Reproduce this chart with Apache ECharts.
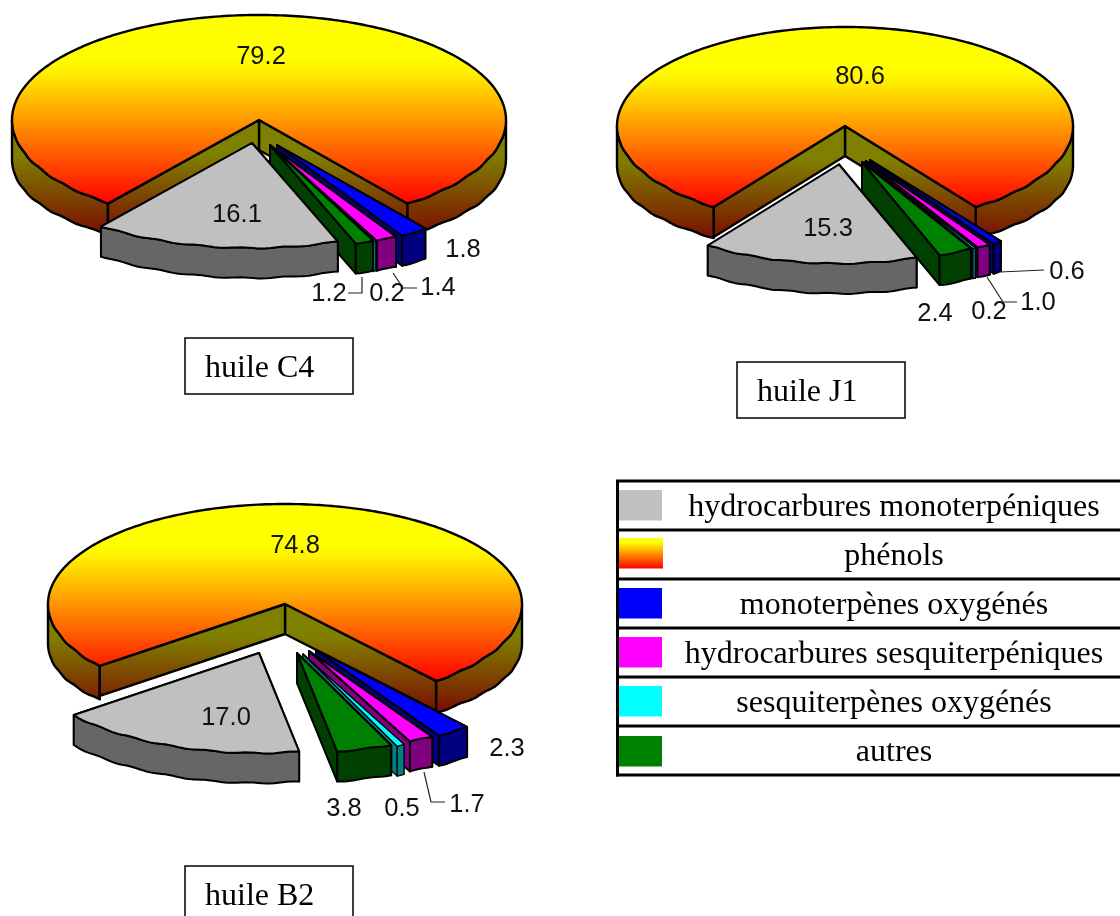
<!DOCTYPE html>
<html>
<head>
<meta charset="utf-8">
<style>html,body{margin:0;padding:0;background:#fff}#c{width:1120px;height:916px}</style>
<script src="https://cdn.jsdelivr.net/npm/echarts@6/dist/echarts.min.js"></script>
</head>
<body>
<div id="c"></div>
<script>
// Categories in drawing order (phenols, then clockwise round the gap)
const categories = ['phénols','monoterpènes oxygénés','hydrocarbures sesquiterpéniques','sesquiterpènes oxygénés','autres','hydrocarbures monoterpéniques'];
const sampleNames = ['huile C4','huile J1','huile B2'];
const valuesC4 = [79.2,1.8,1.4,0.2,1.2,16.1];
const valuesJ1 = [80.6,0.6,1.0,0.2,2.4,15.3];
const valuesB2 = [74.8,2.3,1.7,0.5,3.8,17.0];
const legendOrder = ['hydrocarbures monoterpéniques','phénols','monoterpènes oxygénés','hydrocarbures sesquiterpéniques','sesquiterpènes oxygénés','autres'];

const topColors  = {'monoterpènes oxygénés':'#0000ff','hydrocarbures sesquiterpéniques':'#ff00ff','sesquiterpènes oxygénés':'#00ffff','autres':'#008000','hydrocarbures monoterpéniques':'#c0c0c0'};
const sideColors = {'monoterpènes oxygénés':'#000080','hydrocarbures sesquiterpéniques':'#800080','sesquiterpènes oxygénés':'#008080','autres':'#004000','hydrocarbures monoterpéniques':'#666666'};

const pies = [
 {values:valuesC4,cx:259,cy:120,rx:247,ry:105,depth:30,start:36.9,
  shift:[[0,0],[18,25],[12,26],[11,26],[11,25],[-7,23]],
  labels:[[261,55],[463,248],[438,286],[387,292],[329,292],[237,213]],
  leaders:[[[362,277],[362,293],[348,293]],[[393,273],[403,288],[417,288]]],
  box:[185,338,168,56],boxText:[205,367]},
 {values:valuesJ1,cx:845,cy:126,rx:228,ry:99,depth:30,start:35,
  shift:[[0,0],[25,34],[21,35],[19,36],[17,36],[-6,38.5]],
  labels:[[860,75],[1067,270],[1038,301],[989,310],[935,312],[828,227]],
  leaders:[[[1000,272],[1044,270]],[[987,277],[1003,302],[1017,302]]],
  box:[737,362,168,56],boxText:[757,391]},
 {values:valuesB2,cx:285,cy:604,rx:237,ry:100,depth:30,start:39.6,
  shift:[[0,0],[31,46],[24,47],[18,50],[12,49],[-26,49]],
  labels:[[295,544],[507,747],[467,803],[402,807],[344,807],[226,716]],
  leaders:[[[424,772],[431,802],[445,802]]],
  box:[185,866,168,70],boxText:[205,895]}
];

// One point of a slice's rim; the front of the rim carries the reference's slight scalloped look
function rimPoint(p,off,deg,dz){
  const t=deg*Math.PI/180, c=Math.cos(t);
  const wob=c>0?0.55*Math.sin(t*36)*Math.min(1,c*3):0;
  return [p.cx+off[0]+p.rx*Math.sin(t),p.cy+off[1]+p.ry*c+wob+(dz||0)];
}
function arc(p,off,a,b,dz,flare){
  const n=Math.max(1,Math.round(Math.abs(b-a))),pts=[];
  for(let i=0;i<=n;i++){
    const d=a+(b-a)*i/n,s=Math.sin(d*Math.PI/180);
    pts.push(rimPoint(p,off,d,(dz||0)+(flare?flare*s*s*s*s:0)));
  }
  return pts;
}
function poly(points,fill,lw){
  return {type:'polygon',shape:{points},style:{fill,stroke:'#000',lineWidth:lw||2.4,lineJoin:'round'}};
}
function wallOf(p,off,a,b,fill,lw,flare){
  const top=arc(p,off,a,b,0),bot=arc(p,off,a,b,p.depth,flare).reverse();
  return poly(top.concat(bot),fill,lw);
}
function edgeWall(p,off,a,fill,lw){
  const ax=p.cx+off[0],ay=p.cy+off[1],e=rimPoint(p,off,a,0);
  return poly([[ax,ay],e,[e[0],e[1]+p.depth],[ax,ay+p.depth]],fill,lw);
}
function renderer(p){
  const total=p.values.reduce((s,v)=>s+v,0);
  return function(params,api){
    const idx=api.value(1),val=api.value(0),deg=val/total*360,ch=[];
    const off=p.shift[idx];
    if(idx===0){
      const a=p.start,b=p.start+deg-360;   // a: right edge, b: left edge of the gap
      const sideFill={type:'linear',x:0,y:p.cy,x2:0,y2:p.cy+p.ry*Math.cos(a*Math.PI/180)+p.depth,global:true,
        colorStops:[{offset:0,color:'#808000'},{offset:.3,color:'#808000'},{offset:1,color:'#7a1000'}]};
      const topFill={type:'linear',x:0,y:p.cy-p.ry,x2:0,y2:p.cy+p.ry*Math.cos(a*Math.PI/180),global:true,
        colorStops:[{offset:0,color:'#ffff00'},{offset:.22,color:'#ffff00'},{offset:.3,color:'#fff000'},{offset:1,color:'#ff0000'}]};
      ch.push(wallOf(p,off,a,90,sideFill,2.4,9));
      ch.push(wallOf(p,off,b,-90,sideFill,2.4,9));
      ch.push(edgeWall(p,off,a,sideFill));
      ch.push(edgeWall(p,off,b,sideFill));
      ch.push(poly([[p.cx,p.cy]].concat(arc(p,off,a,a+deg,0)),topFill));
    }else{
      let hi=p.start;
      for(let i=1;i<idx;i++) hi-=p.values[i]/total*360;
      const lo=hi-deg,name=categories[idx],lw=idx===3?1.2:2;
      const ax=p.cx+off[0],ay=p.cy+off[1];
      ch.push(edgeWall(p,off,hi,sideColors[name],lw));
      ch.push(edgeWall(p,off,lo,sideColors[name],lw));
      ch.push(wallOf(p,off,lo,hi,sideColors[name],lw));
      ch.push(poly([[ax,ay]].concat(arc(p,off,lo,hi,0)),topColors[name],lw));
    }
    const lab=p.labels[idx];
    ch.push({type:'text',x:lab[0],y:lab[1]+1.5,z2:50,style:{text:val.toFixed(1),x:0,y:0,align:'center',verticalAlign:'middle',
      fill:'#111',font:'25.5px "Liberation Sans", Arial, sans-serif'}});
    return {type:'group',children:ch};
  };
}
const series=pies.map((p,k)=>({
  type:'custom',name:sampleNames[k],coordinateSystem:'none',silent:true,clip:false,animation:false,
  renderItem:renderer(p),data:p.values.map((v,i)=>[v,i])
}));

const graphic=[];
// Leader lines and sample boxes
pies.forEach((p,k)=>{
  p.leaders.forEach(l=>graphic.push({type:'polyline',z:20,shape:{points:l},style:{stroke:'#222',lineWidth:1.2,fill:null}}));
  graphic.push({type:'rect',z:20,shape:{x:p.box[0],y:p.box[1],width:p.box[2],height:p.box[3]},style:{fill:'#fff',stroke:'#000',lineWidth:1.5}});
  graphic.push({type:'text',z:21,x:p.boxText[0],y:p.boxText[1]+2,style:{text:sampleNames[k],align:'left',verticalAlign:'middle',fill:'#000',font:'32px "Liberation Serif", "Times New Roman", serif'}});
});
// Legend table
const rowLines=[481,530,579,628,677,726,775];
const swatchY=[490,538,588,637,686,736];
legendOrder.forEach((name,i)=>{
  const fill=name==='phénols'
    ?{type:'linear',x:0,y:0,x2:0,y2:1,colorStops:[{offset:0,color:'#ffff00'},{offset:.15,color:'#ffff00'},{offset:1,color:'#ff0000'}]}
    :topColors[name];
  graphic.push({type:'rect',z:20,shape:{x:name==='phénols'?618:619,y:swatchY[i],width:name==='phénols'?45:43,height:30.5},style:{fill,stroke:null}});
  graphic.push({type:'text',z:21,x:894,y:(rowLines[i]+rowLines[i+1])/2+2.5,style:{text:name,align:'center',verticalAlign:'middle',fill:'#000',font:'32px "Liberation Serif", "Times New Roman", serif'}});
});
rowLines.forEach(y=>graphic.push({type:'line',z:22,shape:{x1:616,y1:y,x2:1120,y2:y},style:{stroke:'#000',lineWidth:3}}));
graphic.push({type:'line',z:22,shape:{x1:617.5,y1:480,x2:617.5,y2:776.5},style:{stroke:'#000',lineWidth:3}});

const chart=echarts.init(document.getElementById('c'),null,{renderer:'canvas'});
chart.setOption({backgroundColor:'#fff',animation:false,series,graphic});
</script>
</body>
</html>
